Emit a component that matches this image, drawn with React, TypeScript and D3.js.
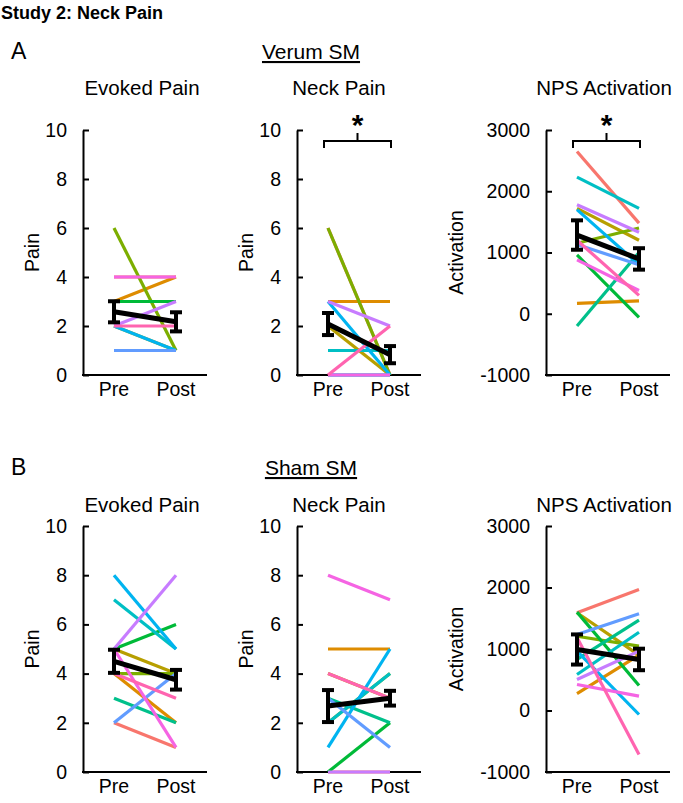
import React, { useRef, useEffect } from 'react';
import * as d3 from 'd3';

// 12 subjects, one colour each (ggplot-like hue palette)
const subjects = ['S1', 'S2', 'S3', 'S4', 'S5', 'S6', 'S7', 'S8', 'S9', 'S10', 'S11', 'S12'];
const palette = ['#F8766D', '#DE8C00', '#B79F00', '#7CAE00', '#00BA38', '#00C08B',
  '#00BFC4', '#00B4F0', '#619CFF', '#C77CFF', '#F564E3', '#FF64B0'];

const conditions = ['Pre', 'Post'];
const painTicks = [0, 2, 4, 6, 8, 10];
const npsTicks = [-1000, 0, 1000, 2000, 3000];

// Verum SM
const verumEvokedPre = [4, 3, 2, 6, 3, 1, 1, 2, 1, 2, 4, 2];
const verumEvokedPost = [4, 4, 1, 1, 3, 1, 1, 1, 1, 3, 4, 2];
const verumEvokedMean = [2.58, 2.17];
const verumEvokedSE = [0.43, 0.39];

const verumNeckPre = [6, 3, 2, 6, 1, 0, 1, 3, 0, 3, 0, 0];
const verumNeckPost = [0, 3, 0, 0, 1, 0, 1, 0, 0, 2, 0, 2];
const verumNeckMean = [2.08, 0.83];
const verumNeckSE = [0.45, 0.35];

const verumNpsPre = [2650, 170, 1720, 1150, 960, -200, 2230, 1700, 1130, 1780, 880, 1200];
const verumNpsPost = [1480, 210, 1200, 1400, -60, 1000, 1720, 800, 800, 1330, 380, 300];
const verumNpsMean = [1285, 895];
const verumNpsSE = [240, 175];

// Sham SM
const shamEvokedPre = [2, 4, 5, 4, 5, 3, 7, 8, 2, 5, 5, 4];
const shamEvokedPost = [1, 2, 4, 4, 6, 2, 5, 5, 4, 8, 1, 3];
const shamEvokedMean = [4.5, 3.75];
const shamEvokedSE = [0.47, 0.4];

const shamNeckPre = [0, 5, 4, 2, 0, 3, 2, 1, 3, 0, 8, 4];
const shamNeckPost = [0, 5, 3, 4, 2, 2, 4, 5, 1, 0, 7, 3];
const shamNeckMean = [2.68, 3.0];
const shamNeckSE = [0.65, 0.3];

const shamNpsPre = [1590, 276, 1590, 1208, 1600, 830, 585, 965, 1236, 504, 423, 1187];
const shamNpsPost = [1967, 900, 900, 1046, 407, 1468, 1273, -65, 1572, 965, 233, -715];
const shamNpsMean = [992, 830];
const shamNpsSE = [245, 175];

const font = 'Liberation Sans, Arial, sans-serif';

const App = () => {
  const svgRef = useRef<SVGSVGElement>(null);

  useEffect(() => {
    const svg = d3.select(svgRef.current);
    svg.selectAll('*').remove();

    const rowTop = [130, 526];
    const rowBottom = [375, 772];
    const titleY = [95, 512];
    const colX = [83, 297, 546];
    const titleX = [142, 339, 604];
    const plotW = 124;

    const panels = [
      { row: 0, col: 0, title: 'Evoked Pain', yLabel: 'Pain', nps: false, pre: verumEvokedPre, post: verumEvokedPost, mean: verumEvokedMean, se: verumEvokedSE, sig: false },
      { row: 0, col: 1, title: 'Neck Pain', yLabel: 'Pain', nps: false, pre: verumNeckPre, post: verumNeckPost, mean: verumNeckMean, se: verumNeckSE, sig: true },
      { row: 0, col: 2, title: 'NPS Activation', yLabel: 'Activation', nps: true, pre: verumNpsPre, post: verumNpsPost, mean: verumNpsMean, se: verumNpsSE, sig: true },
      { row: 1, col: 0, title: 'Evoked Pain', yLabel: 'Pain', nps: false, pre: shamEvokedPre, post: shamEvokedPost, mean: shamEvokedMean, se: shamEvokedSE, sig: false },
      { row: 1, col: 1, title: 'Neck Pain', yLabel: 'Pain', nps: false, pre: shamNeckPre, post: shamNeckPost, mean: shamNeckMean, se: shamNeckSE, sig: false },
      { row: 1, col: 2, title: 'NPS Activation', yLabel: 'Activation', nps: true, pre: shamNpsPre, post: shamNpsPost, mean: shamNpsMean, se: shamNpsSE, sig: false },
    ];

    const color = d3.scaleOrdinal<string, string>().domain(subjects).range(palette);

    // headers
    svg.append('text').attr('x', 1).attr('y', 19).attr('font-size', 18).attr('font-weight', 'bold')
      .attr('font-family', font).text('Study 2: Neck Pain');
    [['A', 'Verum SM', 59], ['B', 'Sham SM', 475]].forEach(([letter, label, yy]) => {
      svg.append('text').attr('x', 11).attr('y', yy as number).attr('font-size', 23)
        .attr('font-family', font).text(letter as string);
      svg.append('text').attr('x', 311).attr('y', yy as number).attr('font-size', 21)
        .attr('text-anchor', 'middle').attr('font-family', font).attr('text-decoration', 'underline')
        .text(label as string);
    });

    panels.forEach(p => {
      const ax = colX[p.col];
      const top = rowTop[p.row];
      const bottom = rowBottom[p.row];
      const g = svg.append('g');

      const x = d3.scalePoint<string>().domain(conditions).range([ax, ax + plotW]).padding(0.5);
      const y = d3.scaleLinear().domain(p.nps ? [-1000, 3000] : [0, 10]).range([bottom, top]);

      g.append('text').attr('x', titleX[p.col]).attr('y', titleY[p.row]).attr('text-anchor', 'middle')
        .attr('font-size', 20.5).attr('font-family', font).text(p.title);

      const yAxis = d3.axisLeft(y).tickValues(p.nps ? npsTicks : painTicks)
        .tickFormat(d => String(d)).tickSizeInner(-6).tickSizeOuter(0).tickPadding(16);
      g.append('g').attr('transform', `translate(${ax},0)`).call(yAxis)
        .call(s => s.selectAll('text').attr('font-size', 19.5).attr('font-family', font).attr('fill', '#000'))
        .call(s => s.selectAll('line, path').attr('stroke', '#000').attr('stroke-width', 2));

      g.append('line').attr('x1', ax - 1).attr('x2', ax + plotW).attr('y1', bottom).attr('y2', bottom)
        .attr('stroke', '#000').attr('stroke-width', 2);

      g.selectAll('.xl').data(conditions).join('text')
        .attr('x', d => x(d)!).attr('y', bottom + 21).attr('text-anchor', 'middle')
        .attr('font-size', 19.5).attr('font-family', font).text(d => d);

      g.append('text')
        .attr('transform', `translate(${ax - (p.nps ? 83 : 44)},${(top + bottom) / 2}) rotate(-90)`)
        .attr('text-anchor', 'middle').attr('font-size', 19.5).attr('font-family', font).text(p.yLabel);

      // individual subjects
      g.append('g').selectAll('line').data(subjects).join('line')
        .attr('x1', x('Pre')!).attr('x2', x('Post')!)
        .attr('y1', (d, i) => y(p.pre[i])).attr('y2', (d, i) => y(p.post[i]))
        .attr('stroke', d => color(d)).attr('stroke-width', 3.2);

      // mean +/- SE
      const mg = g.append('g').attr('stroke', '#000');
      mg.append('line').attr('x1', x('Pre')!).attr('x2', x('Post')!)
        .attr('y1', y(p.mean[0])).attr('y2', y(p.mean[1])).attr('stroke-width', 5);
      conditions.forEach((c, i) => {
        const cx = x(c)!;
        const hi = y(p.mean[i] + p.se[i]);
        const lo = y(p.mean[i] - p.se[i]);
        mg.append('line').attr('x1', cx).attr('x2', cx).attr('y1', hi).attr('y2', lo).attr('stroke-width', 4);
        [hi, lo].forEach(v => {
          mg.append('line').attr('x1', cx - 6).attr('x2', cx + 6).attr('y1', v).attr('y2', v).attr('stroke-width', 4);
        });
      });

      if (p.sig) {
        const by = top + 11;
        const x0 = x('Pre')! - 4;
        const x1 = x('Post')! + 1;
        g.append('path')
          .attr('d', `M${x0},${by + 7}V${by}H${x1}V${by + 7}M${(x0 + x1) / 2},${by}V${by - 8}`)
          .attr('fill', 'none').attr('stroke', '#000').attr('stroke-width', 2);
        g.append('text').attr('x', (x0 + x1) / 2).attr('y', by - 6).attr('text-anchor', 'middle')
          .attr('font-size', 30).attr('font-weight', 'bold').attr('font-family', font).text('*');
      }
    });
  }, []);

  return <svg ref={svgRef} width={683} height={803} style={{ position: 'absolute', left: 0, top: 0, background: '#fff' }} />;
};

export default App;
